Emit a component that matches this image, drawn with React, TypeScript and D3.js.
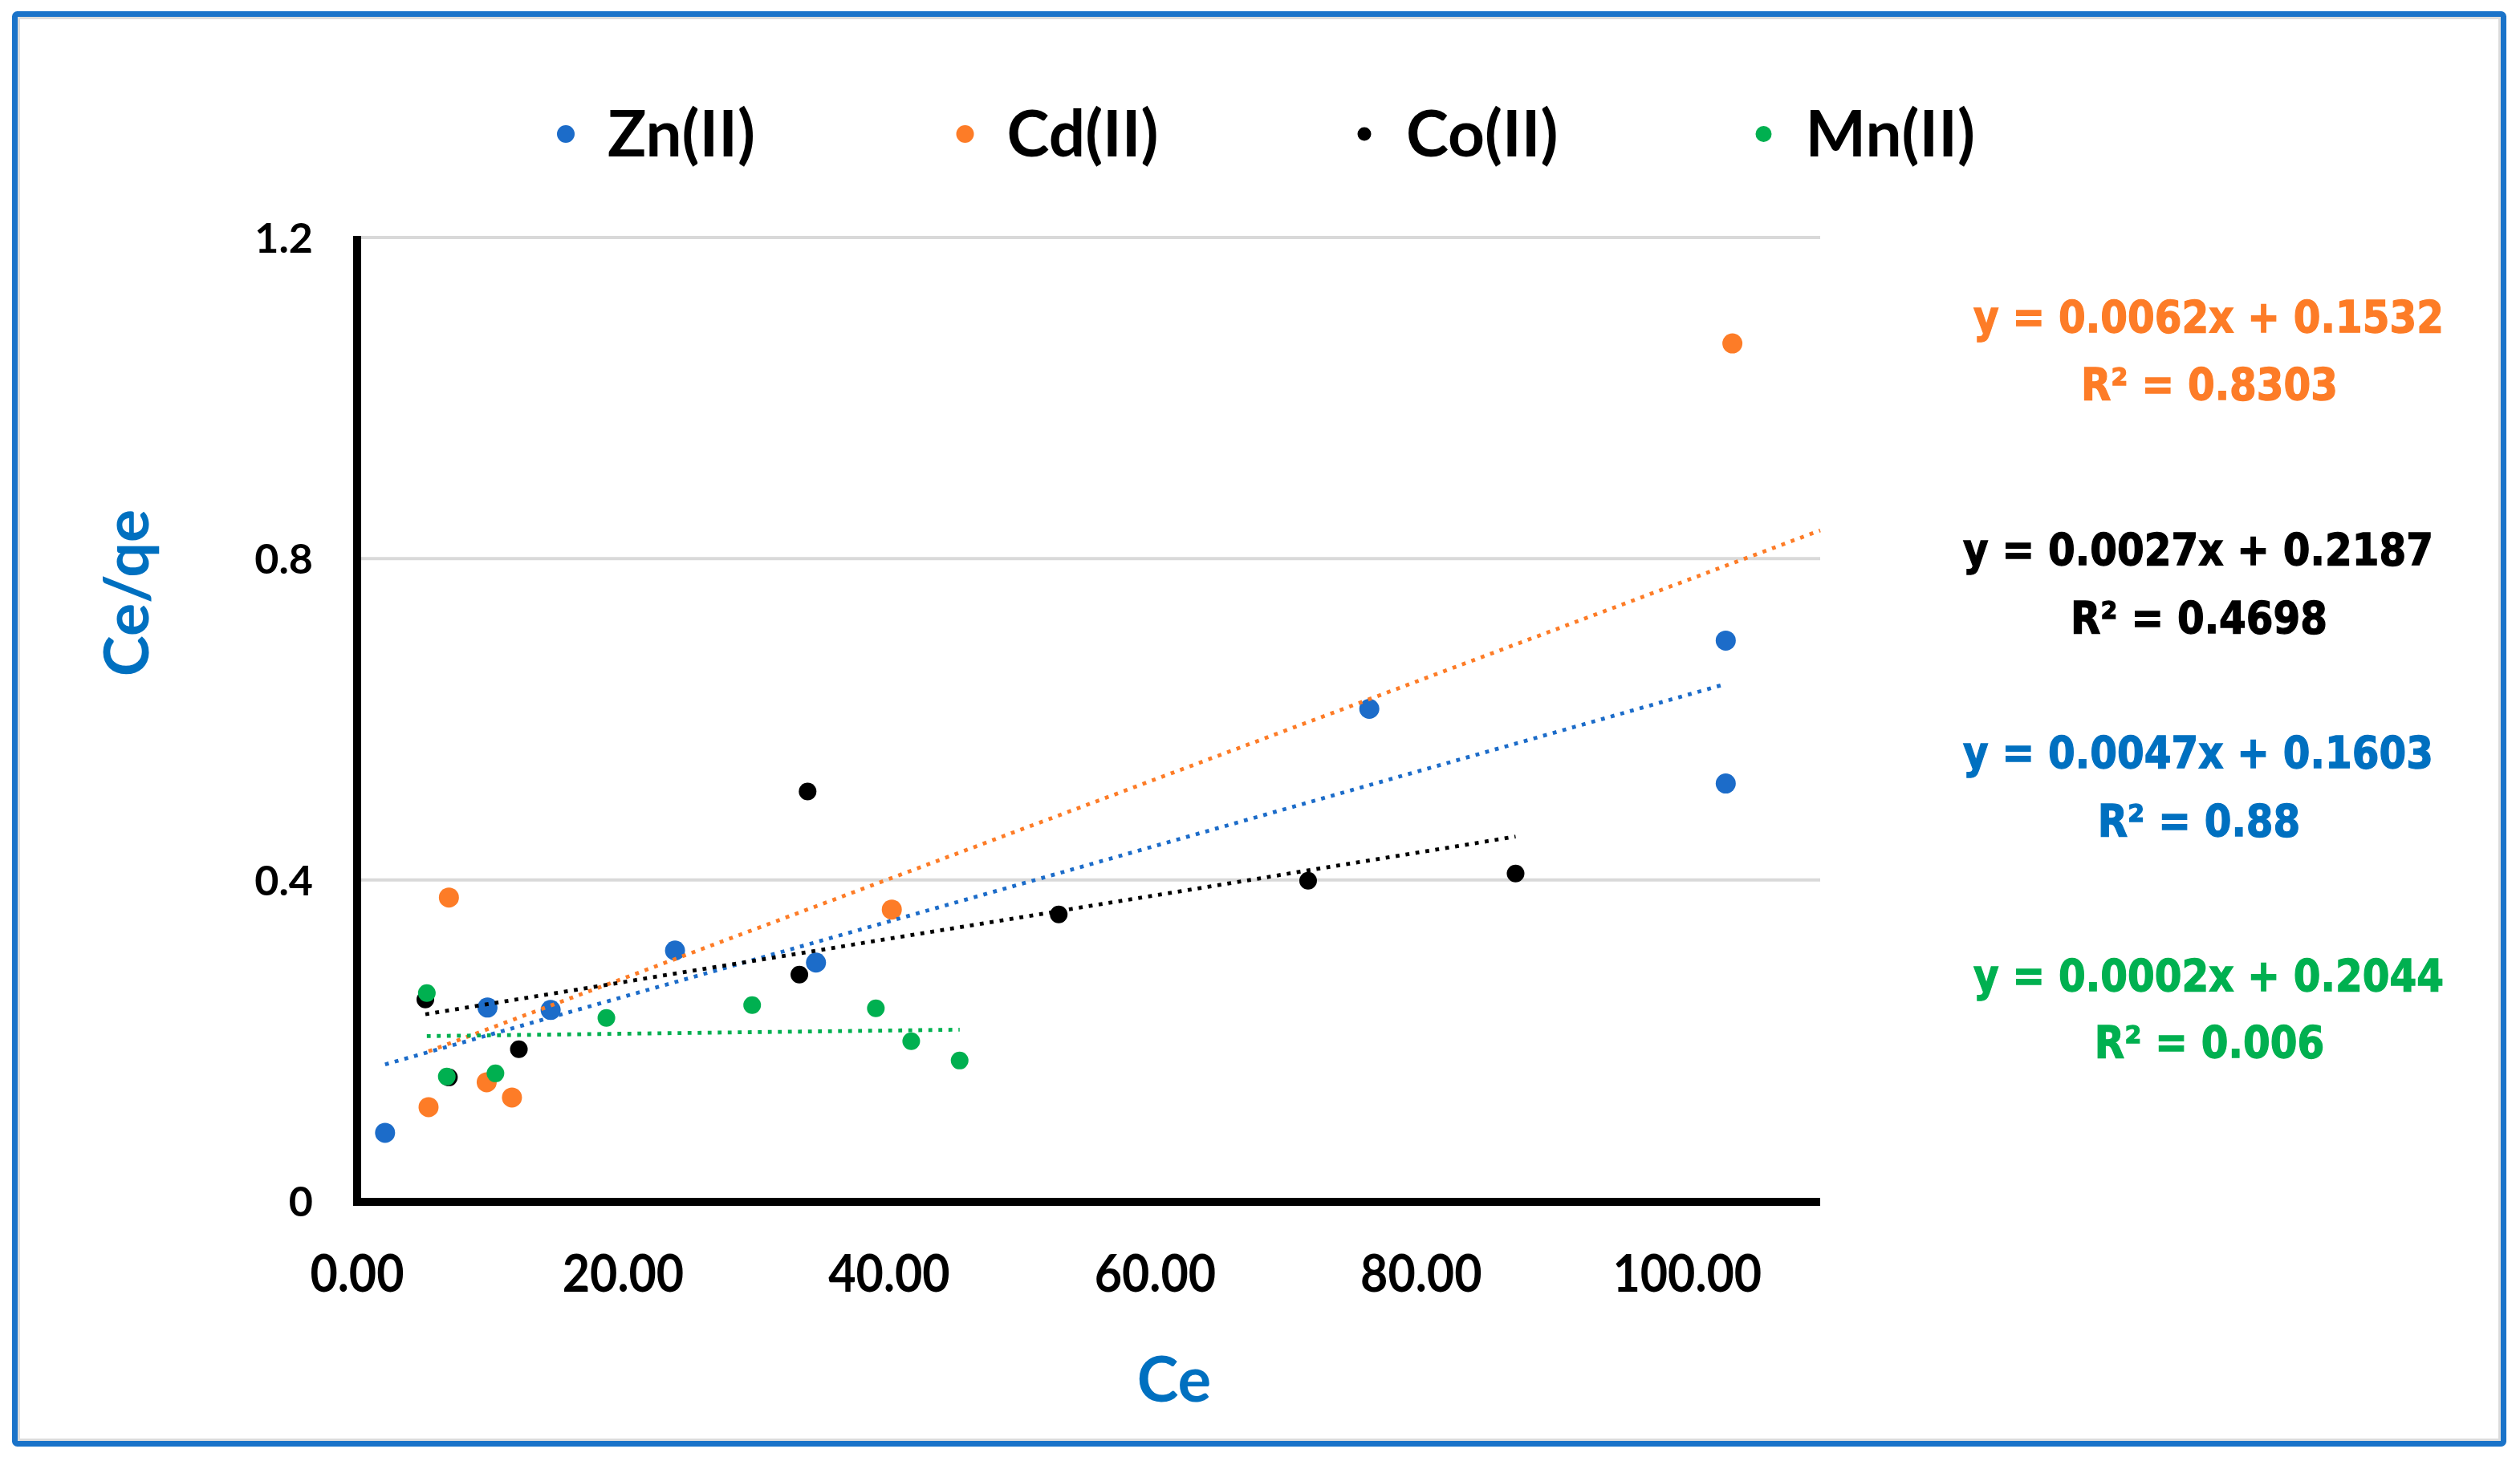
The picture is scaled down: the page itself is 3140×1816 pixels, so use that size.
import React from "react";
import * as d3 from "d3";

const seriesNames = ["Zn(II)", "Cd(II)", "Co(II)", "Mn(II)"];
const seriesColors = ["#1c6cc9", "#fd7c27", "#000000", "#00b050"];
const textColors = ["#0070c0", "#fd7c27", "#000000", "#00b050"];

const znX = [2.1, 9.8, 14.55, 23.9, 34.5, 76.1, 102.9, 102.9];
const znY = [0.085, 0.241, 0.238, 0.312, 0.297, 0.613, 0.698, 0.52];
const cdX = [5.37, 6.9, 9.74, 11.64, 40.2, 103.4];
const cdY = [0.117, 0.378, 0.148, 0.129, 0.363, 1.068];
const coX = [5.13, 6.9, 12.16, 33.25, 33.87, 52.75, 71.5, 87.1];
const coY = [0.251, 0.154, 0.189, 0.282, 0.51, 0.357, 0.399, 0.408];
const mnX = [5.24, 6.74, 10.4, 18.74, 29.7, 39.0, 41.66, 45.3];
const mnY = [0.259, 0.155, 0.159, 0.228, 0.244, 0.24, 0.199, 0.175];

const trendSlope = [0.0047, 0.0062, 0.0027, 0.0002];
const trendIntercept = [0.1603, 0.1532, 0.2187, 0.2044];
const trendFrom = [2.1, 5.37, 5.13, 5.24];
const trendTo = [102.9, 110, 87.1, 45.3];

const eqLabels = [
  "y = 0.0047x + 0.1603",
  "y = 0.0062x + 0.1532",
  "y = 0.0027x + 0.2187",
  "y = 0.0002x + 0.2044",
];
const r2Labels = ["R² = 0.88", "R² = 0.8303", "R² = 0.4698", "R² = 0.006"];

const xTicks = [0, 20, 40, 60, 80, 100];
const yTicks = [0, 0.4, 0.8, 1.2];
const xTitle = "Ce";
const yTitle = "Ce/qe";

const W = 3140;
const H = 1816;

export default function App() {
  const x = d3.scaleLinear().domain([0, 110]).range([445, 2268]);
  const y = d3.scaleLinear().domain([0, 1.2]).range([1497, 296]);
  const xs = [znX, cdX, coX, mnX];
  const ys = [znY, cdY, coY, mnY];
  const markerR = [12.5, 12.5, 11, 11];
  const legendR = [11, 11, 8.5, 10];
  const calibri = "Lato, 'Open Sans', sans-serif";
  const eqFont = "'DejaVu Sans', Verdana, sans-serif";

  // equation block positions (order on screen: Cd, Co, Zn, Mn)
  const eqOrder = [1, 2, 0, 3];
  const eqBaseline = [414, 704, 957, 1235];
  const r2Baseline = [498, 789, 1042, 1318];
  const eqCenter = [2752, 2739, 2739, 2752];

  return (
    <svg
      width={W}
      height={H}
      viewBox={`0 0 ${W} ${H}`}
      style={{ position: "absolute", left: 0, top: 0, display: "block", background: "#fff" }}
    >
      <rect x={0} y={0} width={W} height={H} fill="#ffffff" />
      {/* frame */}
      <rect x={18.5} y={17.5} width={3101} height={1782} fill="none" stroke="#1a73c9" strokeWidth={7} rx={3} />
      <rect x={23.5} y={22.5} width={3091} height={1772} fill="none" stroke="#dcdcdc" strokeWidth={3} />

      {/* gridlines */}
      {yTicks.filter((t) => t > 0).map((t) => (
        <line key={"g" + t} x1={x(0)} x2={x(110)} y1={y(t)} y2={y(t)} stroke="#d9d9d9" strokeWidth={4} />
      ))}

      {/* axes */}
      <line x1={x(0)} x2={x(0)} y1={y(1.2) - 2} y2={y(0) + 6} stroke="#000" strokeWidth={10} />
      <line x1={x(0) - 5} x2={x(110)} y1={y(0) + 1} y2={y(0) + 1} stroke="#000" strokeWidth={10} />

      {/* y tick labels */}
      {yTicks.map((t) => (
        <text
          key={"yt" + t}
          x={390}
          y={y(t) + 19}
          textAnchor="end"
          fontFamily={calibri}
          fontWeight={700}
          fontSize={52}
          fill="#000"
        >
          {t === 0 ? "0" : d3.format(".1f")(t)}
        </text>
      ))}

      {/* x tick labels */}
      {xTicks.map((t) => (
        <text
          key={"xt" + t}
          transform={`translate(${x(t)},1610) scale(0.94,1.04)`}
          textAnchor="middle"
          fontFamily={calibri}
          fontWeight={700}
          fontSize={63}
          fill="#000"
        >
          {d3.format(".2f")(t)}
        </text>
      ))}

      {/* axis titles */}
      <text x={1463} y={1747} textAnchor="middle" fontFamily={calibri} fontWeight={700} fontSize={78} fill="#0070c0">
        {xTitle}
      </text>
      <text
        transform={`translate(185,739) rotate(-90)`}
        textAnchor="middle"
        fontFamily={calibri}
        fontWeight={700}
        fontSize={77}
        fill="#0070c0"
      >
        {yTitle}
      </text>

      {/* markers */}
      {xs.map((sx, si) =>
        sx.map((v, i) => (
          <circle key={`m${si}-${i}`} cx={x(v)} cy={y(ys[si][i])} r={markerR[si]} fill={seriesColors[si]} />
        ))
      )}

      {/* trendlines */}
      {trendSlope.map((m, si) => {
        const x0 = trendFrom[si];
        const x1 = trendTo[si];
        const pts: [number, number][] = [
          [x(x0), y(m * x0 + trendIntercept[si])],
          [x(x1), y(m * x1 + trendIntercept[si])],
        ];
        const d = d3.line()(pts) || "";
        return (
          <path
            key={"t" + si}
            d={d}
            fill="none"
            stroke={seriesColors[si]}
            strokeWidth={4.8}
            strokeDasharray="4.8 7.7"
          />
        );
      })}

      {/* legend */}
      {seriesNames.map((n, i) => {
        const cx = 705 + i * 497.5;
        return (
          <g key={"l" + i}>
            <circle cx={cx} cy={167} r={legendR[i]} fill={seriesColors[i]} />
            <text x={cx + 52} y={195} fontFamily={calibri} fontWeight={700} fontSize={80} fill="#000">
              {n}
            </text>
          </g>
        );
      })}

      {/* equations */}
      {eqOrder.map((si, k) => (
        <g key={"e" + si}>
          <text
            transform={`translate(${eqCenter[k]},${eqBaseline[k]}) scale(0.97,1.1)`}
            textAnchor="middle"
            fontFamily={eqFont}
            fontWeight={700}
            fontSize={50}
            fill={textColors[si]}
            stroke={textColors[si]}
            strokeWidth={1.2}
          >
            {eqLabels[si]}
          </text>
          <text
            transform={`translate(${eqCenter[k] + 1},${r2Baseline[k]}) scale(0.97,1.1)`}
            textAnchor="middle"
            fontFamily={eqFont}
            fontWeight={700}
            fontSize={50}
            fill={textColors[si]}
            stroke={textColors[si]}
            strokeWidth={1.2}
          >
            {r2Labels[si]}
          </text>
        </g>
      ))}
    </svg>
  );
}
